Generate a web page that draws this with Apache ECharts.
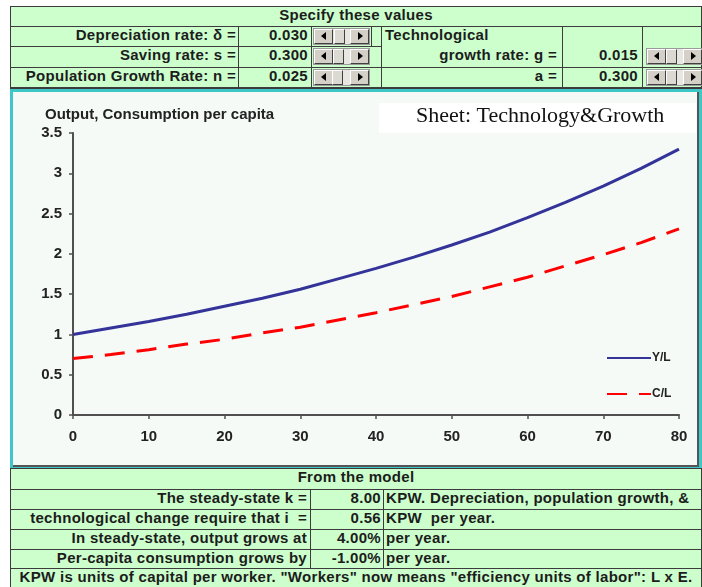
<!DOCTYPE html>
<html><head><meta charset="utf-8">
<script src="https://cdn.jsdelivr.net/npm/echarts@6/dist/echarts.min.js"></script>
<style>
html,body{margin:0;padding:0;background:#fff;width:702px;height:587px;overflow:hidden;position:relative;font-family:"Liberation Sans",Arial,sans-serif;}
#chart{position:absolute;left:0;top:0;width:702px;height:587px;z-index:5;}
</style></head>
<body>
<div id="chart"></div>
<script>
// ---- data ----
const years = [0, 5, 10, 15, 20, 25, 30, 35, 40, 45, 50, 55, 60, 65, 70, 75, 80];
const outputPerCapita = [1.00, 1.08, 1.16, 1.25, 1.35, 1.45, 1.56, 1.69, 1.82, 1.96, 2.11, 2.27, 2.45, 2.64, 2.84, 3.06, 3.30];
const consumptionPerCapita = [0.70, 0.75, 0.81, 0.88, 0.94, 1.02, 1.09, 1.18, 1.27, 1.37, 1.47, 1.59, 1.71, 1.85, 1.99, 2.14, 2.31];
const seriesNames = ['Y/L', 'C/L'];
const chartTitle = 'Output, Consumption per capita';
const sheetLabel = 'Sheet: Technology&Growth';
const inputLabels = ['Depreciation rate: \u03b4 =', 'Saving rate: s =', 'Population Growth Rate: n ='];
const inputValues = ['0.030', '0.300', '0.025'];
const rightLabels = ['Technological', 'growth rate: g =', 'a ='];
const rightValues = ['0.015', '0.300'];
const modelLabels = ['The steady-state k =', 'technological change require that i  =', 'In steady-state, output grows at', 'Per-capita consumption grows by'];
const modelValues = ['8.00', '0.56', '4.00%', '-1.00%'];
const modelNotes = ['KPW. Depreciation, population growth, &', 'KPW  per year.', 'per year.', 'per year.'];
const footNote = 'KPW is units of capital per worker. "Workers" now means "efficiency units of labor": L x E.';

// ---- helpers for the spreadsheet cells ----
function box(x, y, w, h, style) {
  const d = document.createElement('div');
  d.style.cssText = `position:absolute;left:${x}px;top:${y}px;width:${w}px;height:${h}px;${style || ''}`;
  document.body.appendChild(d);
  return d;
}
const LINE = '#3c3c3c';
function hl(y, x1, x2, t) { box(x1, y, x2 - x1, t || 1, 'background:' + LINE); }
function vl(x, y1, y2) { box(x, y1, 1, y2 - y1, 'background:' + LINE); }
function txt(x1, x2, y1, y2, t, align, pad) {
  const d = box(x1, y1, x2 - x1, y2 - y1,
    `line-height:${y2 - y1}px;text-align:${align};font:bold 15px "Liberation Sans",Arial,sans-serif;letter-spacing:0.3px;color:#1c1c1c;white-space:pre;padding:0 ${pad || 0}px;box-sizing:border-box;overflow:visible;`);
  d.textContent = t;
}
const BTN = 'box-sizing:border-box;background:#d4d0c8;border-top:1px solid #fff;border-left:1px solid #fff;border-right:1px solid #404040;border-bottom:1px solid #404040;';
function spinner(x, y, thumb) {
  box(x, y, 57, 17, 'background:#e8e6e0;box-sizing:border-box;border:1px solid #9a9a9a;');
  box(x + 1, y + 1, 19, 15, BTN);
  box(x + 8, y + 4, 0, 0, 'border-top:4px solid transparent;border-bottom:4px solid transparent;border-right:5px solid #000;');
  box(x + thumb, y + 1, 11, 15, BTN + 'background:#dcd9d2;');
  box(x + 37, y + 1, 19, 15, BTN);
  box(x + 45, y + 4, 0, 0, 'border-top:4px solid transparent;border-bottom:4px solid transparent;border-left:5px solid #000;');
}

// ---- top table ----
box(10, 6, 692, 82, 'background:#ccffcc;');
hl(6, 10, 702); hl(26, 10, 702); hl(46, 10, 381); hl(67, 10, 702); hl(87, 10, 702, 2);
vl(10, 6, 88); vl(701, 6, 88);
vl(238, 26, 87); vl(311, 26, 87); vl(371, 26, 46); vl(381, 26, 87); vl(562, 26, 87); vl(642, 26, 87);
txt(10, 702, 6, 26, 'Specify these values', 'center');
for (let i = 0; i < 3; i++) {
  const y1 = [26, 46, 67][i], y2 = [46, 67, 87][i];
  txt(10, 238, y1, y2, inputLabels[i], 'right', 2);
  txt(238, 311, y1, y2, inputValues[i], 'right', 3);
  spinner(313, y1 + 2, [21, 20, 19][i]);
}
txt(381, 562, 26, 46, rightLabels[0], 'left', 4);
txt(381, 562, 46, 67, rightLabels[1], 'right', 5);
txt(381, 562, 67, 87, rightLabels[2], 'right', 5);
txt(562, 642, 46, 67, rightValues[0], 'right', 4);
txt(562, 642, 67, 87, rightValues[1], 'right', 4);
spinner(646, 48, 20);
spinner(646, 69, 20);

// ---- chart frame ----
box(10, 89, 692, 379, 'background:#3fc6c6;');
box(13, 92, 686, 375, 'background:#f5faf7;box-sizing:border-box;border-right:2px solid #555;border-bottom:2px solid #555;');

// ---- bottom table ----
box(10, 468, 692, 119, 'background:#ccffcc;');
hl(468, 10, 702); hl(489, 10, 702); hl(509, 10, 702); hl(529, 10, 702); hl(549, 10, 702); hl(568, 10, 702);
vl(10, 468, 587); vl(701, 468, 587);
vl(310, 489, 568); vl(383, 489, 568);
txt(10, 702, 468, 489, 'From the model', 'center');
const rowsY = [489, 509, 529, 549, 568];
for (let i = 0; i < 4; i++) {
  txt(10, 310, rowsY[i], rowsY[i + 1], modelLabels[i], 'right', 3);
  txt(310, 383, rowsY[i], rowsY[i + 1], modelValues[i], 'right', 2);
  txt(383, 702, rowsY[i], rowsY[i + 1], modelNotes[i], 'left', 3);
}
txt(10, 702, 568, 587, footNote, 'center');

// ---- the chart ----
const chart = echarts.init(document.getElementById('chart'), null, { renderer: 'canvas' });
const FONT = '"Liberation Sans", Arial, sans-serif';
chart.setOption({
  backgroundColor: 'transparent',
  animation: false,
  title: {
    text: chartTitle, left: 40, top: 102,
    textStyle: { fontFamily: FONT, fontWeight: 'bold', fontSize: 15, color: '#222' }
  },
  graphic: [
    { type: 'rect', shape: { x: 379, y: 103, width: 317, height: 30 }, style: { fill: '#ffffff' }, z: 1 },
    { type: 'text', left: 416, top: 105, style: { text: sheetLabel, font: '22px "Liberation Serif", "Times New Roman", serif', fill: '#111' }, z: 2 }
  ],
  legend: {
    orient: 'vertical', left: 601, top: 347, itemWidth: 44, itemHeight: 14, itemGap: 24,
    data: seriesNames,
    itemStyle: { opacity: 0 },
    textStyle: { fontFamily: FONT, fontWeight: 'bold', fontSize: 12, color: '#222', padding: [0, 0, 0, -4] }
  },
  grid: { left: 73, right: 23, top: 133, bottom: 172, containLabel: false },
  xAxis: {
    type: 'value', min: 0, max: 80, interval: 10,
    axisLine: { lineStyle: { color: '#505050', width: 2 } },
    axisTick: { show: true, length: 4, lineStyle: { color: '#505050', width: 1.5 } },
    axisLabel: { margin: 14, fontFamily: FONT, fontWeight: 'bold', fontSize: 15, color: '#222' },
    splitLine: { show: false }
  },
  yAxis: {
    type: 'value', min: 0, max: 3.5, interval: 0.5,
    axisLine: { show: true, lineStyle: { color: '#505050', width: 2 } },
    axisTick: { show: true, length: 4, lineStyle: { color: '#505050', width: 1.5 } },
    axisLabel: { margin: 11, fontFamily: FONT, fontWeight: 'bold', fontSize: 15, color: '#222' },
    splitLine: { show: false }
  },
  series: [
    {
      name: seriesNames[0], type: 'line', symbol: 'none',
      data: years.map((x, i) => [x, outputPerCapita[i]]),
      lineStyle: { color: '#333399', width: 3 }, itemStyle: { color: '#333399' }
    },
    {
      name: seriesNames[1], type: 'line', symbol: 'none',
      data: years.map((x, i) => [x, consumptionPerCapita[i]]),
      lineStyle: { color: '#ff0000', width: 3, type: [20, 12] }, itemStyle: { color: '#ff0000' }
    }
  ]
});
</script>
</body></html>
